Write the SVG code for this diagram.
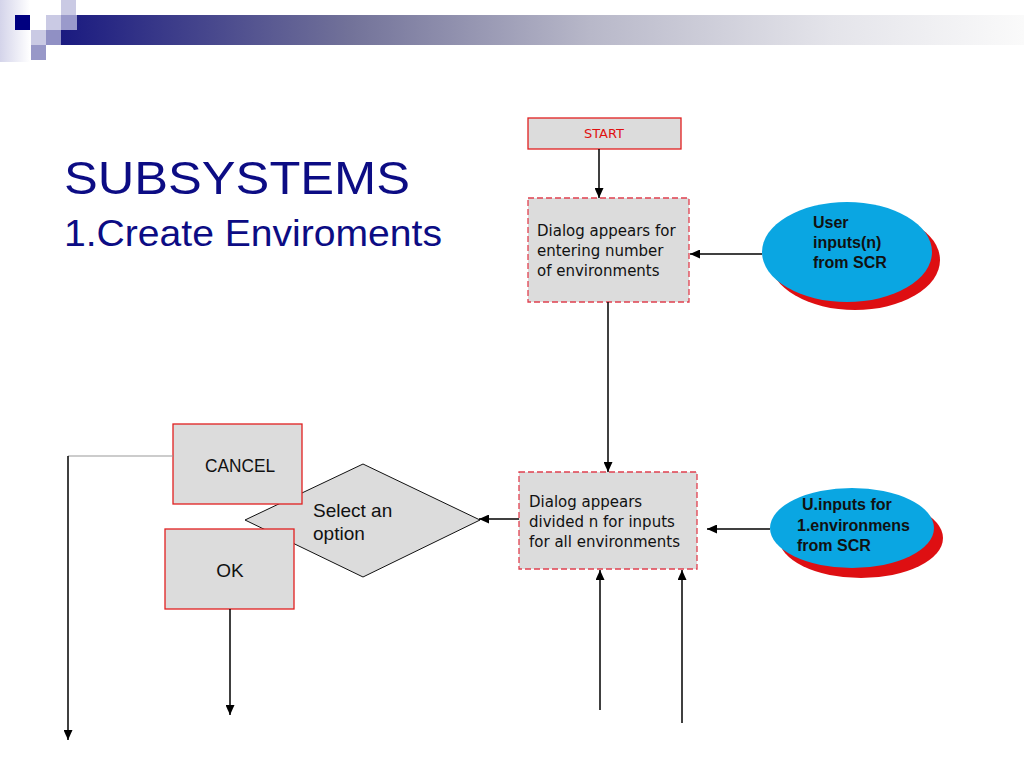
<svg xmlns="http://www.w3.org/2000/svg" width="1024" height="768" viewBox="0 0 1024 768">
<defs>
<linearGradient id="bar" x1="0" y1="0" x2="1" y2="0">
<stop offset="0" stop-color="#1a1a80"/>
<stop offset="0.3" stop-color="#727299"/>
<stop offset="0.55" stop-color="#b8b8c9"/>
<stop offset="0.8" stop-color="#e4e4ea"/>
<stop offset="1" stop-color="#fafafa"/>
</linearGradient>
<linearGradient id="side" x1="0" y1="0" x2="1" y2="0">
<stop offset="0" stop-color="#d4d4ea"/>
<stop offset="1" stop-color="#ffffff"/>
</linearGradient>
<marker id="ah" markerUnits="userSpaceOnUse" markerWidth="10" markerHeight="9" refX="10" refY="4.5" orient="auto">
<path d="M0,0 L10,4.5 L0,9 z" fill="#000"/>
</marker>
<style>
.box{fill:#dcdcdc;stroke:#e02020;stroke-width:1.3}
.dbox{fill:#dcdcdc;stroke:#e0404f;stroke-width:1.3;stroke-dasharray:6 3}
.dt{font-family:"DejaVu Sans",sans-serif;font-size:15px;fill:#111}
.bt{font-family:"Liberation Sans",Arial,sans-serif;font-size:16px;font-weight:bold;fill:#111}
.at{font-family:"Liberation Sans",Arial,sans-serif;font-size:19px;fill:#111}
.title{font-family:"Liberation Sans",Arial,sans-serif;fill:#0c0c84}
.blue{fill:#0aa6e2}
.red{fill:#de0f12}
.conn line{stroke:#000;stroke-width:1.5;fill:none}
</style>
</defs>
<rect width="1024" height="768" fill="#fff"/>
<g id="header">
<rect x="0" y="0" width="30" height="62" fill="url(#side)"/>
<rect x="61" y="15" width="963" height="30" fill="url(#bar)"/>
<rect x="61" y="0" width="15" height="15" fill="#cacae4"/>
<rect x="15" y="15" width="15" height="15" fill="#000080"/>
<rect x="46" y="15" width="15" height="15" fill="#cacae4"/>
<rect x="61" y="15" width="16" height="15" fill="#9a9acb"/>
<rect x="31" y="30" width="15" height="15" fill="#cacae4"/>
<rect x="46" y="30" width="15" height="15" fill="#9090c4"/>
<rect x="31" y="45" width="15" height="15" fill="#9898c8"/>
</g>
<g id="title">
<text class="title" x="64" y="194" font-size="47" textLength="346" lengthAdjust="spacingAndGlyphs">SUBSYSTEMS</text>
<text class="title" x="64" y="246" font-size="36" textLength="378" lengthAdjust="spacingAndGlyphs">1.Create Enviroments</text>
</g>
<g id="start">
<rect class="box" x="528" y="118" width="153" height="31"/>
<text x="604" y="138" text-anchor="middle" font-family="DejaVu Sans,sans-serif" font-size="13" fill="#e01010">START</text>
</g>
<g id="dialog1">
<rect class="dbox" x="528" y="198" width="161" height="104"/>
<text class="dt" x="537" y="236">Dialog appears for</text>
<text class="dt" x="537" y="256">entering number</text>
<text class="dt" x="537" y="276">of environments</text>
</g>
<g id="user-input">
<ellipse class="red" cx="855" cy="260" rx="85" ry="50"/>
<ellipse class="blue" cx="847" cy="252" rx="85" ry="50"/>
<text class="bt" x="813" y="228">User</text>
<text class="bt" x="813" y="248">inputs(n)</text>
<text class="bt" x="813" y="268">from SCR</text>
</g>
<g id="dialog2">
<rect class="dbox" x="519" y="472" width="178" height="97"/>
<text class="dt" x="529" y="507">Dialog appears</text>
<text class="dt" x="529" y="527">divided n for inputs</text>
<text class="dt" x="529" y="547">for all environments</text>
</g>
<g id="env-input">
<ellipse class="red" cx="861" cy="538" rx="82" ry="40"/>
<ellipse class="blue" cx="852" cy="528" rx="82" ry="40"/>
<text class="bt" x="802" y="510">U.inputs for</text>
<text class="bt" x="797" y="531">1.environmens</text>
<text class="bt" x="797" y="551">from SCR</text>
</g>
<g id="select">
<polygon points="363,464 480,520 363,577 245,520" fill="#dcdcdc" stroke="#111" stroke-width="1"/>
<text class="at" x="313" y="517">Select an</text>
<text class="at" x="313" y="540">option</text>
</g>
<g id="cancel">
<rect class="box" x="173" y="424" width="129" height="80"/>
<text class="at" x="240" y="472" text-anchor="middle" font-size="18" textLength="70" lengthAdjust="spacingAndGlyphs">CANCEL</text>
</g>
<g id="ok">
<rect class="box" x="165" y="529" width="129" height="80"/>
<text class="at" x="230" y="577" text-anchor="middle">OK</text>
</g>
<g id="connectors" class="conn">
<line x1="599" y1="149" x2="599" y2="198" marker-end="url(#ah)"/>
<line x1="762" y1="254" x2="690" y2="254" marker-end="url(#ah)"/>
<line x1="608" y1="302" x2="608" y2="472" marker-end="url(#ah)"/>
<line x1="770" y1="529" x2="707" y2="529" marker-end="url(#ah)"/>
<line x1="519" y1="519" x2="479" y2="519" marker-end="url(#ah)"/>
<line x1="173" y1="456" x2="68" y2="456" style="stroke:#999;stroke-width:1"/>
<line x1="68" y1="456" x2="68" y2="740" marker-end="url(#ah)"/>
<line x1="230" y1="609" x2="230" y2="715" marker-end="url(#ah)"/>
<line x1="600" y1="710" x2="600" y2="570" marker-end="url(#ah)"/>
<line x1="682" y1="723" x2="682" y2="570" marker-end="url(#ah)"/>
</g>
</svg>
